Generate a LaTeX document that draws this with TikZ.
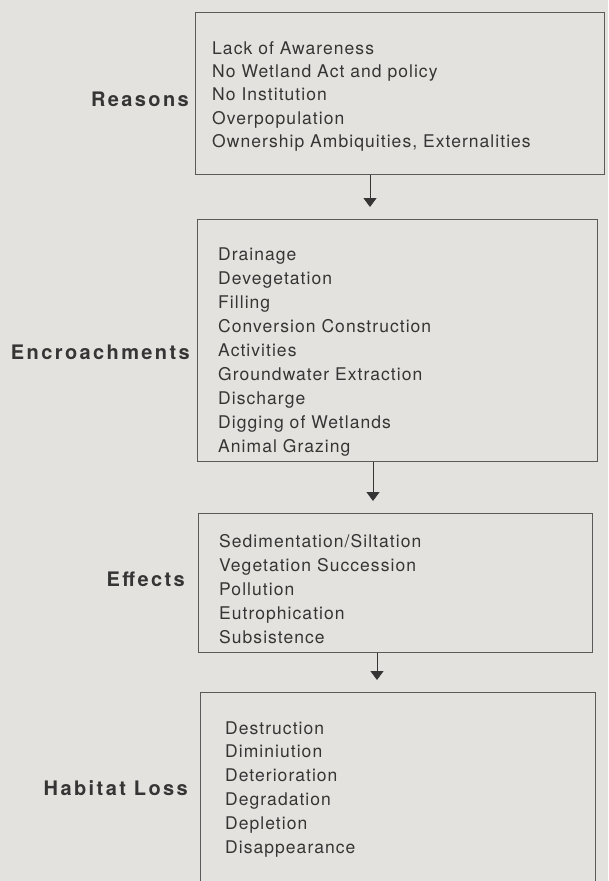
\documentclass[tikz,border=0pt]{standalone}
\usepackage{fontspec}
\setmainfont{TeX Gyre Heros}
\newfontfamily\itemfont[LetterSpace=6]{TeX Gyre Heros}
\newfontfamily\lblfont[LetterSpace=12]{TeX Gyre Heros}
\usetikzlibrary{arrows.meta}
\definecolor{bg}{HTML}{E4E2DE}
\definecolor{ink}{HTML}{353535}
\definecolor{frame}{HTML}{5A5A5A}
\begin{document}
\begin{tikzpicture}[x=1pt,y=-1pt,
  box/.style={draw=frame, line width=0.9pt, anchor=north west, inner sep=0pt},
  item/.style={anchor=base west, inner sep=0pt, text=ink, font=\itemfont\fontsize{17.5}{20}\selectfont},
  lbl/.style={anchor=base east, inner sep=0pt, text=ink, font=\lblfont\fontsize{20}{23}\selectfont\bfseries},
  arr/.style={draw=ink, line width=1pt, -{Triangle[width=13pt,length=9pt]}, shorten >=12pt}]
\fill[bg] (0,0) rectangle (608,881);
\useasboundingbox (0,0) rectangle (608,881);

% boxes
\node[box, minimum width=409pt, minimum height=162pt] (b1) at (195,12) {};
\node[box, minimum width=400pt, minimum height=242pt] (b2) at (197,219) {};
\node[box, minimum width=394pt, minimum height=139pt] (b3) at (198,513) {};
\node[box, minimum width=395pt, minimum height=192pt] (b4) at (200,692) {};

% items
\foreach \t [count=\i] in {Lack of Awareness, No Wetland Act and policy, No Institution, Overpopulation, {Ownership Ambiquities, Externalities}}
  \node[item] (r\i) at (212,{54+23.4*(\i-1)}) {\t};
\foreach \t [count=\i] in {Drainage, Devegetation, Filling, Conversion Construction, Activities, Groundwater Extraction, Discharge, Digging of Wetlands, Animal Grazing}
  \node[item] (e\i) at (218,{260+24*(\i-1)}) {\t};
\foreach \t [count=\i] in {Sedimentation/Siltation, Vegetation Succession, Pollution, Eutrophication, Subsistence}
  \node[item] (f\i) at (219,{547+24*(\i-1)}) {\t};
\foreach \t [count=\i] in {Destruction, Diminiution, Deterioration, Degradation, Depletion, Disappearance}
  \node[item] (h\i) at (225,{734+23.8*(\i-1)}) {\t};

% labels
\node[lbl] (l1) at (189,106) {Reasons};
\node[lbl] (l2) at (190,359) {Encroachments};
\node[lbl] (l3) at (185,586) {Effects};
\node[lbl] (l4) at (188,795) {Habitat Loss};

% arrows
\coordinate (a1) at (370,0);
\coordinate (a2) at (373,0);
\coordinate (a3) at (377,0);
\draw[arr] (b1.south -| a1) -- (b2.north -| a1);
\draw[arr] (b2.south -| a2) -- (b3.north -| a2);
\draw[arr] (b3.south -| a3) -- (b4.north -| a3);
\end{tikzpicture}
\end{document}
